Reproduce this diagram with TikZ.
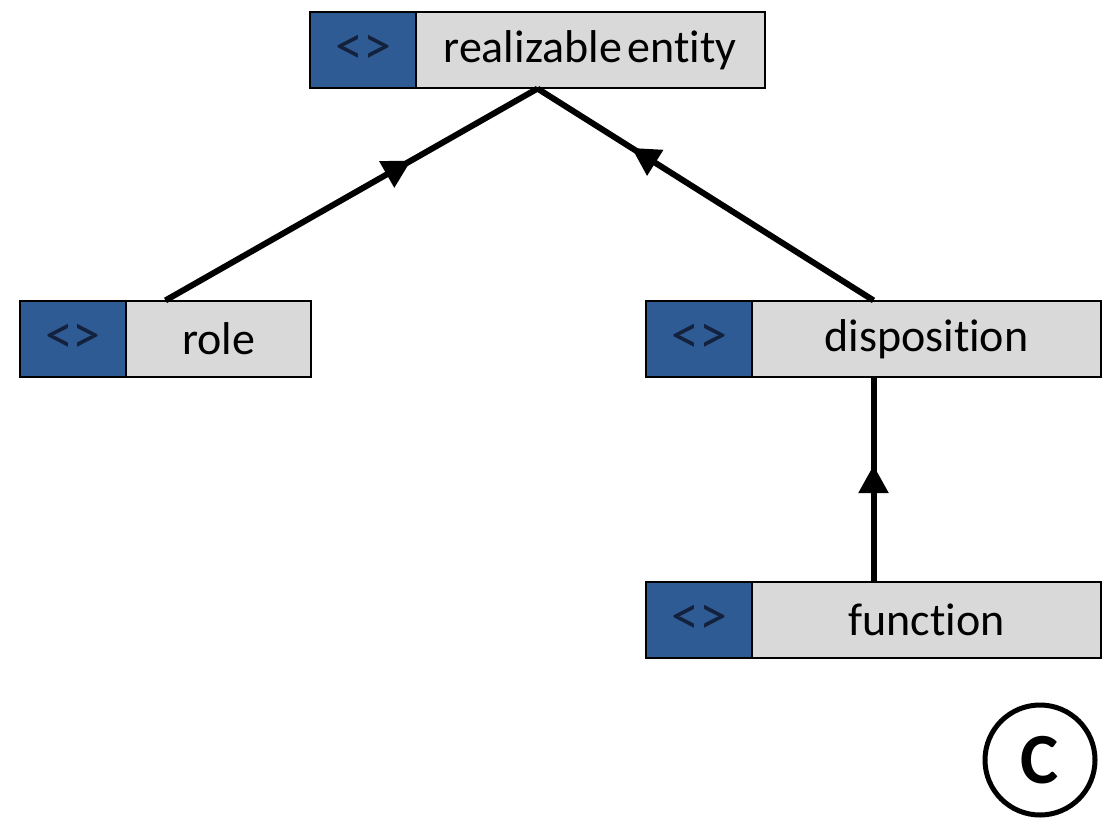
\documentclass[tikz,border=0pt]{standalone}
\usepackage{fontspec}
\setmainfont[Ligatures=NoCommon]{Carlito}
\usetikzlibrary{arrows.meta,decorations.markings}
\definecolor{boxblue}{HTML}{2E5B94}
\definecolor{boxgray}{HTML}{D9D9D9}
\definecolor{navy}{HTML}{14213D}
\tikzset{
  classbox/.style={draw=black, line width=1.2pt, fill=boxgray, rectangle, minimum height=76pt, inner sep=0pt},
  stereo/.style={draw=black, line width=1.2pt, fill=boxblue, rectangle, minimum width=106pt, minimum height=76pt, inner sep=0pt, anchor=west, text=navy, font=\fontsize{56}{60}\selectfont},
  cname/.style={inner sep=0pt, text=black, font=\fontsize{46}{52}\selectfont},
  isa/.style={line width=6pt, postaction={decorate}, decoration={markings, mark=at position #1 with {\arrow{Triangle[length=28pt,width=29pt]}}}},
}
\begin{document}
\begin{tikzpicture}[x=1pt,y=-1pt]
\useasboundingbox (0,0) rectangle (1105,821);
% boxes
\node[classbox, minimum width=455pt] (re) at (537.5,50) {};
\node[stereo] (reS) at (re.west) {<>};
\node[cname] (reT) at (590,50) {realizable\hspace{0.12em}entity};

\node[classbox, minimum width=291pt] (role) at (165.5,339) {};
\node[stereo] (roleS) at (role.west) {<>};
\node[cname] (roleT) at (218.5,339) {role};

\node[classbox, minimum width=455pt] (disp) at (873.5,339) {};
\node[stereo] (dispS) at (disp.west) {<>};
\node[cname] (dispT) at (926.5,339) {disposition};

\node[classbox, minimum width=455pt] (func) at (873.5,620) {};
\node[stereo] (funcS) at (func.west) {<>};
\node[cname] (funcT) at (926.5,620) {function};

% connectors
\draw[isa=0.66] (role.north) -- (re.south);
\draw[isa=0.72] (disp.north) -- (re.south);
\draw[isa=0.57] (func.north) -- (disp.south);

% label
\node[draw=black, circle, line width=5pt, minimum size=110pt, inner sep=0pt, font=\bfseries\fontsize{72}{76}\selectfont] (lbl) at (1040,760) {C};
\end{tikzpicture}
\end{document}
